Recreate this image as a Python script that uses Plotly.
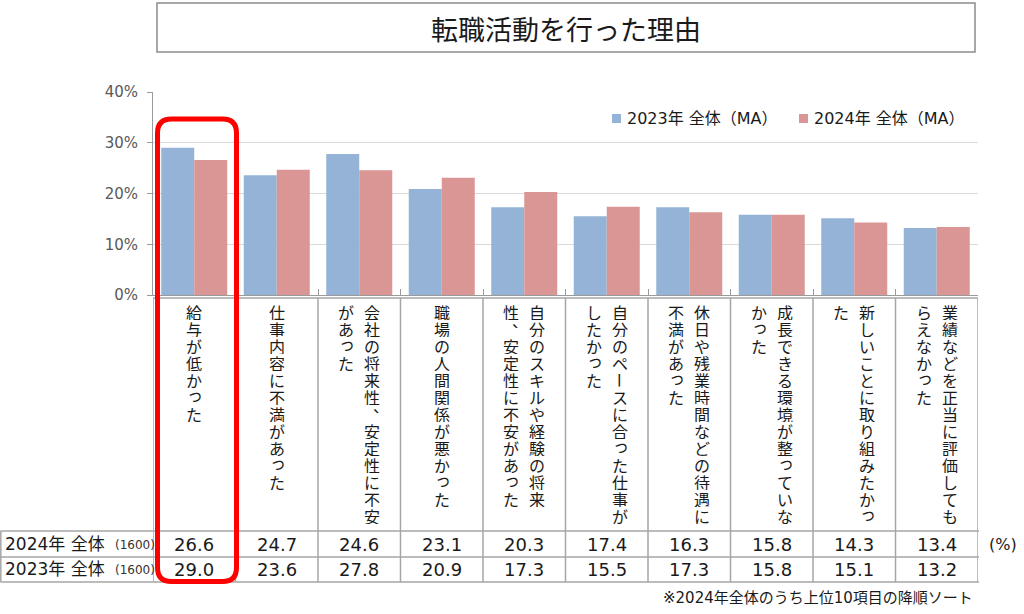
import plotly.graph_objects as go

W, H = 1024, 614

# ---------------- data ----------------
label_lines = [
    ["給与が低かった"],
    ["仕事内容に不満があった"],
    ["会社の将来性、安定性に不安", "があった"],
    ["職場の人間関係が悪かった"],
    ["自分のスキルや経験の将来", "性、安定性に不安があった"],
    ["自分のペースに合った仕事が", "したかった"],
    ["休日や残業時間などの待遇に", "不満があった"],
    ["成長できる環境が整っていな", "かった"],
    ["新しいことに取り組みたかっ", "た"],
    ["業績などを正当に評価しても", "らえなかった"],
]
categories = ["".join(l) for l in label_lines]
values_2023 = [29.0, 23.6, 27.8, 20.9, 17.3, 15.5, 17.3, 15.8, 15.1, 13.2]
values_2024 = [26.6, 24.7, 24.6, 23.1, 20.3, 17.4, 16.3, 15.8, 14.3, 13.4]
series_names = ["2023年 全体（MA）", "2024年 全体（MA）"]
y_ticks = [0, 10, 20, 30, 40]
y_tick_text = ["0%", "10%", "20%", "30%", "40%"]
row_labels = ["2024年 全体", "2023年 全体"]
row_n = ["(1600)", "(1600)"]
title_text = "転職活動を行った理由"
note_text = "※2024年全体のうち上位10項目の降順ソート"
unit_text = "(%)"

# ---------------- style ----------------
BLUE = "#95B3D7"
PINK = "#D99694"
TXT = "#1a1a1a"
GRID = "#a6a6a6"
FONT = "DejaVu Sans, Noto Sans CJK JP, sans-serif"
CJK = "Noto Sans CJK JP, sans-serif"


def px(x):
    return x / W


def py(y):
    return 1 - y / H


X0, X1 = 153, 978   # plot area left/right (pixels)
Y0, Y40 = 295, 92   # 0% and 40% (pixels)

fig = go.Figure()
fig.add_bar(x=categories, y=values_2023, name=series_names[0],
            marker=dict(color=BLUE, line=dict(width=0)))
fig.add_bar(x=categories, y=values_2024, name=series_names[1],
            marker=dict(color=PINK, line=dict(width=0)))

fig.update_layout(
    width=W, height=H, autosize=False,
    margin=dict(l=0, r=0, t=0, b=0, pad=0, autoexpand=False),
    barmode="group", bargap=0.2, bargroupgap=0,
    showlegend=False,
    plot_bgcolor="white", paper_bgcolor="white",
    font=dict(family=FONT, color=TXT),
    xaxis=dict(
        domain=[px(X0), px(X1)], range=[-0.5, 9.5], type="category",
        showticklabels=False, showgrid=False, zeroline=False,
        showline=True, linecolor="#9a9a9a", linewidth=1,
        ticks="inside", tickson="boundaries", ticklen=6, tickcolor="#9a9a9a",
        fixedrange=True, automargin=False,
    ),
    yaxis=dict(
        domain=[py(Y0), py(Y40)], range=[0, 40],
        tickvals=y_ticks, ticktext=y_tick_text,
        tickfont=dict(size=15, color="#595959", family=FONT),
        showline=True, linecolor="#9a9a9a", linewidth=1,
        ticks="outside", ticklen=5, tickcolor="#9a9a9a",
        ticklabelstandoff=6,
        showgrid=True, gridcolor="#d9d9d9", gridwidth=1,
        zeroline=False, fixedrange=True, automargin=False,
    ),
)

shapes = []
ann = []

# title box
shapes.append(dict(type="rect", xref="paper", yref="paper",
                   x0=px(157), x1=px(975), y0=py(52), y1=py(3),
                   line=dict(color="#8c8c8c", width=1.5), fillcolor="white", layer="below"))
ann.append(dict(x=px(566), y=py(28), xref="paper", yref="paper", text=title_text,
                showarrow=False, font=dict(size=27, family=CJK, color=TXT),
                xanchor="center", yanchor="middle"))

# manual legend
leg_x = [612, 799]
for lx, col, name in zip(leg_x, [BLUE, PINK], series_names):
    shapes.append(dict(type="rect", xref="paper", yref="paper",
                       x0=px(lx), x1=px(lx + 9), y0=py(123), y1=py(114),
                       line=dict(width=0), fillcolor=col))
    ann.append(dict(x=px(lx + 13), y=py(119), xref="paper", yref="paper", text=name,
                    showarrow=False, xanchor="left", yanchor="middle",
                    font=dict(size=16, color=TXT)))

# table grid
TOP = 298
R1, R2, R3 = 531, 557, 582
shapes.append(dict(type="line", xref="x", yref="paper", x0=-0.5, x1=9.5,
                   y0=py(TOP), y1=py(TOP), line=dict(color=GRID, width=1.5)))
for yy in (R1, R2, R3):
    shapes.append(dict(type="line", xref="paper", yref="paper", x0=px(0.5), x1=px(X1 + 1),
                       y0=py(yy), y1=py(yy), line=dict(color=GRID, width=1.5)))
shapes.append(dict(type="line", xref="paper", yref="paper", x0=px(0.8), x1=px(0.8),
                   y0=py(R1), y1=py(R3), line=dict(color=GRID, width=1.5)))
for k in range(len(categories) + 1):
    shapes.append(dict(type="line", xref="x", yref="paper", x0=k - 0.5, x1=k - 0.5,
                       y0=py(TOP), y1=py(R3), line=dict(color=GRID, width=1.5)))

# vertical category labels (one character per annotation, stacked)
SMALL = set("っゃゅょぁぃぅぇぉッャュョァィゥェォ")
PITCH = 17
for i, lines in enumerate(label_lines):
    n = len(lines)
    for j, line in enumerate(lines):
        xs = 13 * (n - 1) - 26 * j
        for k, ch in enumerate(line):
            ang, dx, dy = 0, 0, 0
            if ch in "ー－":
                ang = 90
            elif ch in SMALL:
                dx, dy = 1, 3
            elif ch in "、。":
                dx, dy = 9, 9
            ann.append(dict(x=categories[i], xref="x", y=py(312 + PITCH * k), yref="paper",
                            text=ch, showarrow=False, textangle=ang,
                            xshift=xs + dx, yshift=dy,
                            width=18, height=PITCH - 1, borderpad=0,
                            xanchor="center", yanchor="middle",
                            font=dict(size=16, family=CJK, color=TXT)))

# data rows
for r, (lab, nn, vals) in enumerate(zip(row_labels, row_n, [values_2024, values_2023])):
    yc = 544 + 25 * r
    ann.append(dict(x=px(3), y=py(yc), xref="paper", yref="paper", text=lab,
                    showarrow=False, xanchor="left", yanchor="middle",
                    font=dict(size=17, color=TXT)))
    ann.append(dict(x=px(113), y=py(yc + 1), xref="paper", yref="paper", text=nn,
                    showarrow=False, xanchor="left", yanchor="middle",
                    font=dict(size=12, color="#333333")))
    for i, v in enumerate(vals):
        ann.append(dict(x=categories[i], xref="x", y=py(yc), yref="paper",
                        text=f"{v:.1f}", showarrow=False,
                        xanchor="center", yanchor="middle",
                        font=dict(size=18, color=TXT)))

ann.append(dict(x=px(1003), y=py(544), xref="paper", yref="paper", text=unit_text,
                showarrow=False, xanchor="center", yanchor="middle",
                font=dict(size=16, color=TXT)))
ann.append(dict(x=px(975), y=py(598), xref="paper", yref="paper", text=note_text,
                showarrow=False, xanchor="right", yanchor="middle",
                font=dict(size=15, color=TXT)))

# red rounded highlight box
L, R, T, B, rr = 157.5, 236.5, 119, 581.5, 14


def P(x, y):
    return f"{px(x):.5f},{py(y):.5f}"


path = (f"M {P(L + rr, T)} L {P(R - rr, T)} Q {P(R, T)} {P(R, T + rr)} "
        f"L {P(R, B - rr)} Q {P(R, B)} {P(R - rr, B)} "
        f"L {P(L + rr, B)} Q {P(L, B)} {P(L, B - rr)} "
        f"L {P(L, T + rr)} Q {P(L, T)} {P(L + rr, T)} Z")
shapes.append(dict(type="path", xref="paper", yref="paper", path=path,
                   line=dict(color="#ff0000", width=5), layer="above"))

fig.update_layout(shapes=shapes, annotations=ann)
fig.write_html("out.html")
